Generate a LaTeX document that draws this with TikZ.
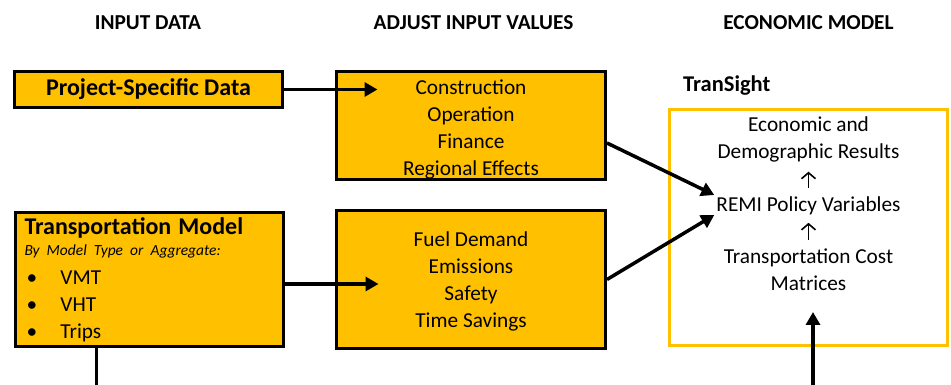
\documentclass[tikz,border=0pt]{standalone}
\usepackage{fontspec}
\setmainfont{Carlito}
\newfontfamily\notefont[WordSpace=0.6]{Carlito}
\usetikzlibrary{arrows.meta, positioning}
\usepackage{xcolor}
\definecolor{BoxGold}{RGB}{255,192,0}

\begin{document}
\begin{tikzpicture}[
  x=1pt, y=1pt,
  every node/.style={align=center, inner sep=0pt},
  colhead/.style={font=\fontsize{21.3}{26}\selectfont\bfseries, anchor=base},
  body/.style={font=\fontsize{21.3}{27}\selectfont},
  gbox/.style={draw=black, line width=3pt, fill=BoxGold, font=\fontsize{21.3}{27}\selectfont},
  feed/.style={line width=3.5pt, -{Triangle[length=13pt, width=14pt]}},
  lift/.style={line width=1.6pt, -{Straight Barb[length=6pt, width=14pt]}}
  ]

\useasboundingbox (0,0) rectangle (951,385);

% Column headings
\node[colhead] (hinput) at (148,355) {INPUT DATA};
\node[colhead] (hadjust) at (473.5,355) {ADJUST INPUT VALUES};
\node[colhead] (hmodel) at (808.5,355) {ECONOMIC MODEL};

% Input data
\node[gbox, minimum width=268pt, minimum height=36pt,
  font=\fontsize{24}{28}\selectfont\bfseries] (projdata) at (148.5,295.5) {Project-Specific Data};
\node[gbox, anchor=north west, minimum width=268pt, minimum height=134pt,
  text width=250pt, align=left, inner xsep=9pt] (tmodel) at (14,173.5) {
  {\fontsize{24}{27}\selectfont\bfseries Transportation Model}\\[-6pt]
  {\notefont\fontsize{15.5}{20}\selectfont\itshape By Model Type or Aggregate:}\\[2pt]
  \hspace*{2pt}\makebox[34pt][l]{\textbullet}VMT\\
  \hspace*{2pt}\makebox[34pt][l]{\textbullet}VHT\\
  \hspace*{2pt}\makebox[34pt][l]{\textbullet}Trips
  };

% Adjusted values
\node[gbox, minimum width=269pt, minimum height=108pt] (adjproj) at (471,259.5) {
  \rule{0pt}{22.5pt}Construction\\Operation\\Finance\\Regional Effects};
\node[gbox, minimum width=269pt, minimum height=138pt] (adjtrans) at (471,105.5) {
  \rule{0pt}{19.5pt}Fuel Demand\\Emissions\\Safety\\Time Savings};

% TranSight model
\node[draw=BoxGold, line width=3pt, fill=white, minimum width=278pt, minimum height=236pt] (tsbox) at (808.5,157.5) {};
\node[font=\fontsize{22.5}{26}\selectfont\bfseries, anchor=base west] (tslabel) at (683,293) {TranSight};
\node[body] (remi) at (808.5,179) {REMI Policy Variables};
\node[body, above=34pt of remi] (econ) {Economic and\\Demographic Results};
\node[body, below=33.5pt of remi] (tcost) {Transportation Cost\\Matrices};
\draw[lift, shorten <=9pt, shorten >=9pt] (remi) -- (econ);
\draw[lift, shorten <=9pt, shorten >=7.5pt] (tcost) -- (remi);

% Connectors
\draw[feed] (projdata.east) -- ([xshift=42.5pt]adjproj.west |- projdata.east);
\draw[feed] ([yshift=-4pt]tmodel.east) -- ++(93.5,0);
\draw[feed] ([yshift=-17.5pt]adjproj.east) -- ([xshift=-2pt, yshift=11pt]remi.west);
\draw[feed] (adjtrans.east) -- ([xshift=-2pt, yshift=-9pt]remi.west);
\draw[line width=3.5pt] ([xshift=-53pt]tmodel.south) -- ++(0,-40);
\coordinate (modelin) at (813,0);
\draw[feed] (modelin) -- ++(0,73);
\end{tikzpicture}
\end{document}
